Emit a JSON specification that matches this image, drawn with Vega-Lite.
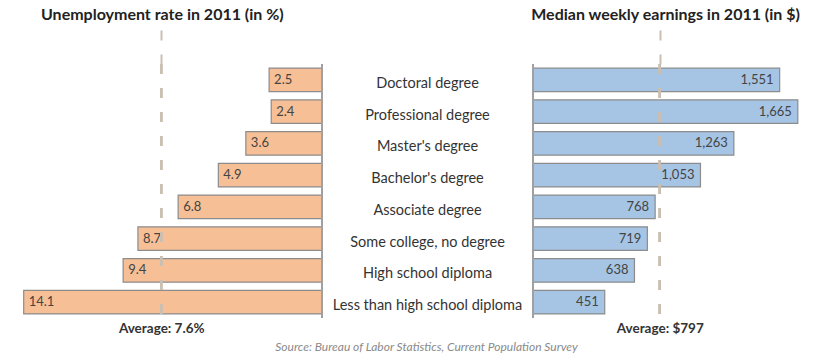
{
  "$schema": "https://vega.github.io/schema/vega-lite/v6.json",
  "background": "white",
  "padding": {"left": 0, "top": 7, "right": 0, "bottom": 0},
  "autosize": {"type": "pad"},
  "config": {
    "view": {"stroke": null},
    "font": "Lato",
    "concat": {"spacing": 0}
  },
  "title": {
    "text": "Source: Bureau of Labor Statistics, Current Population Survey",
    "orient": "bottom",
    "anchor": "middle",
    "dx": 14,
    "offset": 7,
    "font": "Lato",
    "fontSize": 12,
    "fontStyle": "italic",
    "fontWeight": "normal",
    "color": "#8a8a8a"
  },
  "data": {
    "values": [
      {"edu": "Doctoral degree", "unemp": 2.5, "earn": 1551},
      {"edu": "Professional degree", "unemp": 2.4, "earn": 1665},
      {"edu": "Master's degree", "unemp": 3.6, "earn": 1263},
      {"edu": "Bachelor's degree", "unemp": 4.9, "earn": 1053},
      {"edu": "Associate degree", "unemp": 6.8, "earn": 768},
      {"edu": "Some college, no degree", "unemp": 8.7, "earn": 719},
      {"edu": "High school diploma", "unemp": 9.4, "earn": 638},
      {"edu": "Less than high school diploma", "unemp": 14.1, "earn": 451}
    ]
  },
  "hconcat": [
    {
      "width": 322,
      "height": 254,
      "title": {
        "text": "Unemployment rate in 2011 (in %)",
        "anchor": "start",
        "dx": 41,
        "offset": 6,
        "font": "Lato",
        "fontSize": 16,
        "fontWeight": "bold",
        "color": "#222222"
      },
      "layer": [
        {
          "mark": {"type": "bar", "color": "#f7bf96", "stroke": "#8c8c8c", "strokeWidth": 1.2},
          "encoding": {
            "y": {
              "field": "edu",
              "type": "nominal",
              "sort": null,
              "axis": null,
              "scale": {"paddingInner": 0.255, "paddingOuter": 0.1275}
            },
            "x": {
              "field": "unemp",
              "type": "quantitative",
              "scale": {"domain": [0, 15.22], "reverse": true, "nice": false},
              "axis": {
                "orient": "top",
                "values": [7.6],
                "labels": false,
                "domain": false,
                "grid": false,
                "title": null,
                "ticks": true,
                "tickSize": 34,
                "tickDash": [10, 14],
                "tickColor": "#c9bfb2",
                "tickWidth": 2
              }
            }
          }
        },
        {
          "mark": {"type": "text", "align": "left", "dx": 5, "fontSize": 13, "color": "#444444", "font": "Lato"},
          "encoding": {
            "y": {"field": "edu", "type": "nominal", "sort": null, "axis": null},
            "x": {"field": "unemp", "type": "quantitative", "axis": null},
            "text": {"field": "unemp", "type": "quantitative", "format": ".1f"}
          }
        },
        {
          "mark": {"type": "rule", "color": "#a0a0a0", "strokeWidth": 1.5},
          "encoding": {
            "x": {"datum": 0, "type": "quantitative", "axis": null}
          }
        },
        {
          "mark": {"type": "rule", "color": "#c9bfb2", "strokeWidth": 2, "strokeDash": [10, 14]},
          "encoding": {
            "x": {
              "datum": 7.6,
              "type": "quantitative",
              "axis": {
                "orient": "bottom",
                "values": [7.6],
                "labelExpr": "'Average: 7.6%'",
                "labelFont": "Lato",
                "labelFontSize": 13.5,
                "labelFontWeight": "bold",
                "labelColor": "#333333",
                "labelPadding": 3,
                "ticks": false,
                "domain": false,
                "grid": false,
                "title": null
              }
            }
          }
        }
      ],
      "resolve": {"axis": {"x": "independent"}}
    },
    {
      "width": 211,
      "height": 254,
      "mark": {"type": "text", "fontSize": 14.5, "color": "#333333", "font": "Lato", "dy": 4},
      "encoding": {
        "y": {
          "field": "edu",
          "type": "nominal",
          "sort": null,
          "axis": null,
          "scale": {"paddingInner": 0.255, "paddingOuter": 0.1275}
        },
        "text": {"field": "edu", "type": "nominal"}
      }
    },
    {
      "width": 292,
      "height": 254,
      "title": {
        "text": "Median weekly earnings in 2011 (in $)",
        "anchor": "start",
        "dx": -1,
        "offset": 6,
        "font": "Lato",
        "fontSize": 16,
        "fontWeight": "bold",
        "color": "#222222"
      },
      "layer": [
        {
          "mark": {"type": "bar", "color": "#a6c4e4", "stroke": "#8c8c8c", "strokeWidth": 1.2},
          "encoding": {
            "y": {
              "field": "edu",
              "type": "nominal",
              "sort": null,
              "axis": null,
              "scale": {"paddingInner": 0.255, "paddingOuter": 0.1275}
            },
            "x": {
              "field": "earn",
              "type": "quantitative",
              "scale": {"domain": [0, 1836], "nice": false},
              "axis": {
                "orient": "top",
                "values": [797],
                "labels": false,
                "domain": false,
                "grid": false,
                "title": null,
                "ticks": true,
                "tickSize": 34,
                "tickDash": [10, 14],
                "tickColor": "#c9bfb2",
                "tickWidth": 2
              }
            }
          }
        },
        {
          "mark": {"type": "text", "align": "right", "dx": -6, "fontSize": 13, "color": "#444444", "font": "Lato"},
          "encoding": {
            "y": {"field": "edu", "type": "nominal", "sort": null, "axis": null},
            "x": {"field": "earn", "type": "quantitative", "axis": null},
            "text": {"field": "earn", "type": "quantitative", "format": ","}
          }
        },
        {
          "mark": {"type": "rule", "color": "#a0a0a0", "strokeWidth": 1.5},
          "encoding": {
            "x": {"datum": 0, "type": "quantitative", "axis": null}
          }
        },
        {
          "mark": {"type": "rule", "color": "#c9bfb2", "strokeWidth": 2, "strokeDash": [10, 14]},
          "encoding": {
            "x": {
              "datum": 797,
              "type": "quantitative",
              "axis": {
                "orient": "bottom",
                "values": [797],
                "labelExpr": "'Average: $797'",
                "labelFont": "Lato",
                "labelFontSize": 13.5,
                "labelFontWeight": "bold",
                "labelColor": "#333333",
                "labelPadding": 3,
                "ticks": false,
                "domain": false,
                "grid": false,
                "title": null
              }
            }
          }
        }
      ],
      "resolve": {"axis": {"x": "independent"}}
    }
  ],
  "bounds": "flush"
}
